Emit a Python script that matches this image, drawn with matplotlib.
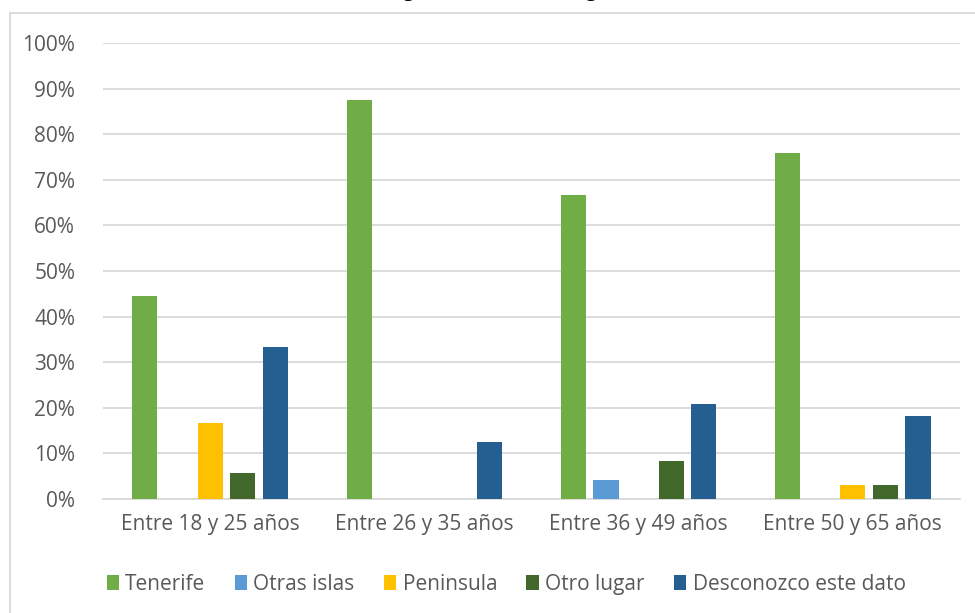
import matplotlib.pyplot as plt
import matplotlib.patches as mpatches
import numpy as np

grupos = ["Entre 18 y 25 años", "Entre 26 y 35 años", "Entre 36 y 49 años", "Entre 50 y 65 años"]
series = ["Tenerife", "Otras islas", "Peninsula", "Otro lugar", "Desconozco este dato"]
tenerife = [44.4, 87.5, 66.7, 75.8]
otras_islas = [0, 0, 4.2, 0]
peninsula = [16.7, 0, 0, 3.0]
otro_lugar = [5.6, 0, 8.3, 3.0]
desconozco = [33.3, 12.5, 20.8, 18.2]
colores = ["#70ad47", "#5b9bd5", "#ffc000", "#43682b", "#255e91"]

plt.rcParams["font.family"] = ["Open Sans", "DejaVu Sans"]
txt = "#595959"

fig = plt.figure(figsize=(9.75, 6.13), dpi=100)
ax = fig.add_axes([0.1056, 0.186, 0.879, 0.744])

x = np.arange(len(grupos))
step, width = 0.152, 0.117
for k, (vals, name, c) in enumerate(zip([tenerife, otras_islas, peninsula, otro_lugar, desconozco], series, colores)):
    v = np.array(vals) / 100
    ax.bar(x + (k - 2) * step, v, width, color=c, label=name, zorder=3)

ax.set_xlim(-0.5, 3.5)
ax.set_ylim(0, 1)
ax.set_yticks(np.arange(0, 1.01, 0.1))
ax.set_yticklabels([f"{int(round(t * 100))}%" for t in np.arange(0, 1.01, 0.1)])
ax.set_xticks(x)
ax.set_xticklabels(grupos)
ax.grid(axis="y", color="#d9d9d9", linewidth=1.3, zorder=0)
for s in ["top", "right", "left"]:
    ax.spines[s].set_visible(False)
ax.spines["bottom"].set_color("#d9d9d9")
ax.spines["bottom"].set_linewidth(1.3)
ax.tick_params(length=0, labelsize=15, colors=txt, pad=11)
ax.tick_params(axis="y", pad=20)

ax.legend(loc="center", bbox_to_anchor=(0.519, 0.047), bbox_transform=fig.transFigure, ncol=5,
          frameon=False, fontsize=15, labelcolor=txt, handlelength=0.6, handleheight=0.7,
          handletextpad=0.3, columnspacing=1.4)

# marco del área del gráfico (recortado en la captura)
fig.patches.append(mpatches.Rectangle((10 / 975, -0.05), 1.2, 1 - 13 / 613 + 0.05,
                                      transform=fig.transFigure, fill=False,
                                      edgecolor="#d9d9d9", linewidth=1.3))
fig.text(0.5, 1.014, "Gráfico 7: Origen de la madre según la edad", ha="center", va="center",
         fontsize=14, fontweight="bold", color="black")

fig.savefig("out.png", dpi=100)
